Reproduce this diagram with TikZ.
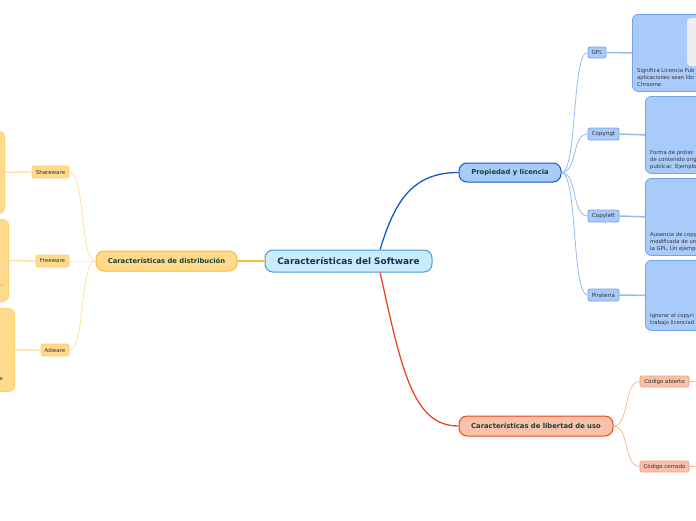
\documentclass[tikz,border=0pt]{standalone}
\usepackage{fontspec}
\setmainfont{DejaVu Sans}
\usetikzlibrary{positioning}
\definecolor{swcentfill}{RGB}{201,236,252}
\definecolor{swcentline}{RGB}{76,155,214}
\definecolor{swcentink}{RGB}{28,45,92}
\definecolor{swtopink}{RGB}{26,66,50}
\definecolor{swsubink}{RGB}{51,51,51}
\definecolor{swblue}{RGB}{168,203,250}
\definecolor{swbluedark}{RGB}{22,86,204}
\definecolor{swblueedge}{RGB}{115,163,240}
\definecolor{swbluelink}{RGB}{150,187,242}
\definecolor{swsalmon}{RGB}{249,192,170}
\definecolor{swsalmondark}{RGB}{233,75,30}
\definecolor{swsalmonedge}{RGB}{244,160,134}
\definecolor{swsalmonlink}{RGB}{248,183,160}
\definecolor{swyellow}{RGB}{255,218,140}
\definecolor{swyellowdark}{RGB}{246,186,58}
\definecolor{swyellowedge}{RGB}{255,206,110}
\definecolor{swyellowlink}{RGB}{255,226,163}
\definecolor{swimg}{RGB}{238,238,238}

\begin{document}
\begin{tikzpicture}[
  x=1pt, y=-1pt,
  central/.style={draw=swcentline, fill=swcentfill, line width=1pt, rounded corners=8pt, inner sep=0pt,
    text=swcentink, font=\fontsize{8.9}{10}\selectfont\bfseries},
  topic/.style={line width=1pt, rounded corners=8pt, inner sep=0pt, text=swtopink,
    font=\fontsize{6.8}{8}\selectfont\bfseries},
  subtopic/.style={line width=0.8pt, rounded corners=2pt, inner sep=0pt, minimum height=12pt,
    text=swsubink, font=\fontsize{5.5}{6.5}\selectfont},
  notecard/.style={line width=0.8pt, rounded corners=6pt},
  cardtext/.style={text=swsubink, align=left, inner sep=0pt, font=\fontsize{5.3}{7}\selectfont},
  mainlink/.style={line width=1.3pt},
  sublink/.style={line width=0.8pt},
  cardlink/.style={line width=1.5pt}
]
\useasboundingbox (0,0) rectangle (696,520);
\clip (0,0) rectangle (696,520);

% main topics
\node[central, minimum width=167pt, minimum height=22pt] (soft) at (348.5,261) {Características del Software};
\node[topic, draw=swbluedark, fill=swblue, minimum width=102pt, minimum height=19pt] (prop) at (510,172.5) {Propiedad y licencia};
\node[topic, draw=swsalmondark, fill=swsalmon, minimum width=154pt, minimum height=20pt] (libre) at (536,426) {Características de libertad de uso};
\node[topic, draw=swyellowdark, fill=swyellow, minimum width=141pt, minimum height=20pt] (dist) at (166.5,261) {Características de distribución};

\draw[mainlink, swbluedark] (soft.20) .. controls +(15,-50) and +(-45,0) .. (prop.west);
\draw[mainlink, swsalmondark] (soft.-20) .. controls +(22,100) and +(-45,0) .. (libre.west);
\draw[mainlink, swyellowdark] (soft.west) -- (dist.east);

% propiedad y licencia
\node[subtopic, draw=swblueedge, fill=swblue, minimum width=18pt, minimum height=11pt] (gpl) at (597,52.5) {GPL};
\node[subtopic, draw=swblueedge, fill=swblue, minimum width=31pt] (copyr) at (603.5,134) {Copyrigt};
\node[subtopic, draw=swblueedge, fill=swblue, minimum width=31pt] (copyl) at (603.5,216) {Copyleft};
\node[subtopic, draw=swblueedge, fill=swblue, minimum width=31pt] (pirat) at (603.5,295) {Piratería};

\foreach \s in {gpl,copyr,copyl,pirat}
  \draw[sublink, swbluelink] (prop.east) .. controls +(16,0) and +(-16,0) .. (\s.west);

\node[notecard, draw=swblueedge, fill=swblue, minimum width=90pt, minimum height=77pt, anchor=north west] (gplcard) at (632,14) {};
\node[notecard, draw=swblueedge, fill=swblue, minimum width=80pt, minimum height=77pt, anchor=north west] (copyrcard) at (645,96) {};
\node[notecard, draw=swblueedge, fill=swblue, minimum width=80pt, minimum height=77pt, anchor=north west] (copylcard) at (645,178) {};
\node[notecard, draw=swblueedge, fill=swblue, minimum width=80pt, minimum height=70pt, anchor=north west] (piratcard) at (645,260) {};
\fill[swimg, rounded corners=4pt] (687,18) rectangle (710,66);

\draw[cardlink, swbluelink] (gpl.east) -- (gplcard.west);
\draw[cardlink, swbluelink] (copyr.east) -- (copyrcard.west);
\draw[cardlink, swbluelink] (copyl.east) -- (copylcard.west);
\draw[cardlink, swbluelink] (pirat.east) -- (piratcard.west);

\node[cardtext, anchor=north west] (gpltext) at (637,68.5) {Significa Licencia Pub\\aplicaciones sean libr\\Chroome.};
\node[cardtext, anchor=north west] (copyrtext) at (650,150) {Forma de protec\\de contenido orig\\publicar. Ejemplo};
\node[cardtext, anchor=north west] (copyltext) at (650,232.5) {Ausencia de copy\\modificada de un\\la GPL. Un ejemp};
\node[cardtext, anchor=north west] (pirattext) at (650,313.5) {Ignorar el copyri\\trabajo licenciad};

% libertad de uso
\node[subtopic, draw=swsalmonedge, fill=swsalmon, minimum width=49pt, minimum height=11pt] (abierto) at (664.5,381.5) {Código abierto};
\node[subtopic, draw=swsalmonedge, fill=swsalmon, minimum width=49pt, minimum height=11pt] (cerrado) at (664.5,466.5) {Código cerrado};
\coordinate (abiertoend) at (700,381.5);
\coordinate (cerradoend) at (700,466.5);

\draw[sublink, swsalmonlink] (libre.east) .. controls +(16,0) and +(-16,0) .. (abierto.west);
\draw[sublink, swsalmonlink] (libre.east) .. controls +(16,0) and +(-16,0) .. (cerrado.west);
\draw[cardlink, swsalmonlink] (abierto.east) -- (abiertoend);
\draw[cardlink, swsalmonlink] (cerrado.east) -- (cerradoend);

% distribucion
\node[subtopic, draw=swyellowedge, fill=swyellow, minimum width=37pt] (share) at (50.5,172) {Shareware};
\node[subtopic, draw=swyellowedge, fill=swyellow, minimum width=33pt] (free) at (52.5,261) {Freeware};
\node[subtopic, draw=swyellowedge, fill=swyellow, minimum width=28pt] (adw) at (55,350) {Adware};

\foreach \s in {share,free,adw}
  \draw[sublink, swyellowlink] (dist.west) .. controls +(-16,0) and +(16,0) .. (\s.east);

\node[notecard, draw=swyellowedge, fill=swyellow, minimum width=80pt, minimum height=82pt, anchor=north east] (sharecard) at (5,131) {};
\node[notecard, draw=swyellowedge, fill=swyellow, minimum width=80pt, minimum height=82pt, anchor=north east] (freecard) at (9,219) {};
\node[notecard, draw=swyellowedge, fill=swyellow, minimum width=80pt, minimum height=83pt, anchor=north east] (adwcard) at (15,308) {};

\draw[cardlink, swyellowlink] (share.west) -- (sharecard.east);
\draw[cardlink, swyellowlink] (free.west) -- (freecard.east);
\draw[cardlink, swyellowlink] (adw.west) -- (adwcard.east);

\node[cardtext, anchor=base east] (freetext) at (3,285) {,};
\node[cardtext, anchor=base east] (adwtext) at (3.2,380.5) {e};
\end{tikzpicture}
\end{document}
